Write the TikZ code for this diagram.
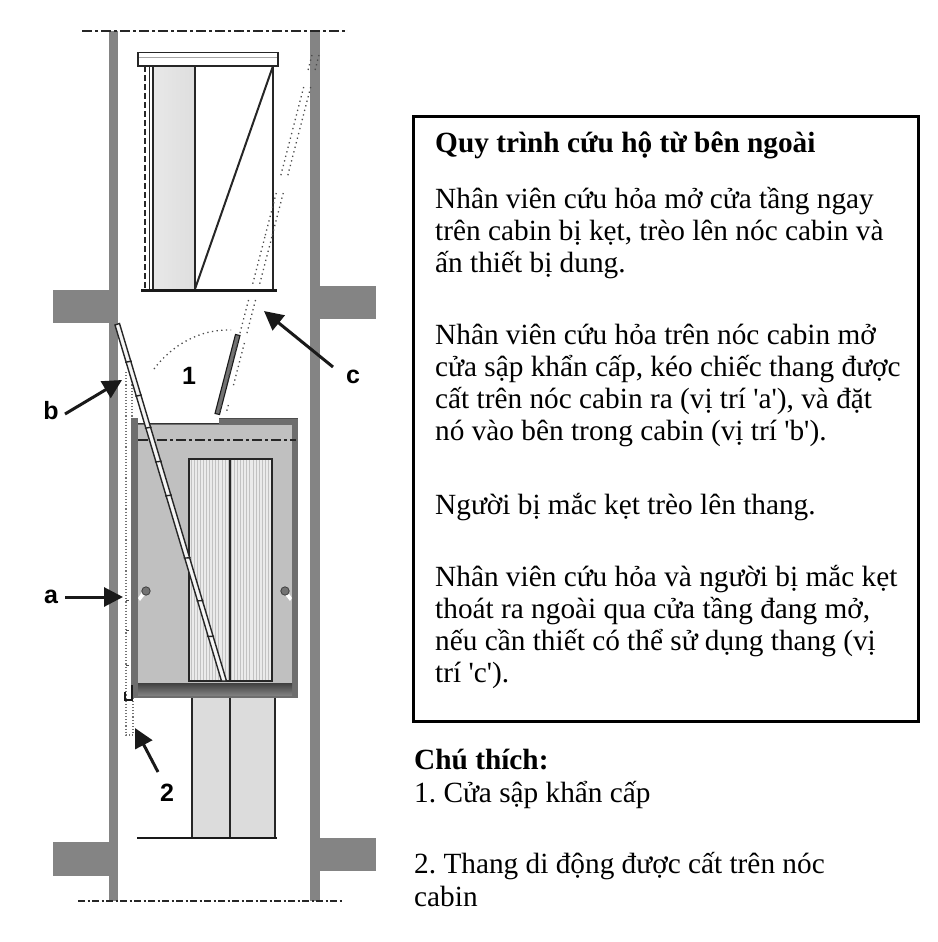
\documentclass[tikz,border=0pt]{standalone}
\usepackage{fontspec}
\setmainfont[Ligatures=TeXOff]{Liberation Serif}
\newfontfamily\lblfont{Liberation Sans}
\usetikzlibrary{arrows.meta}
\definecolor{wallc}{HTML}{848484}
\definecolor{framec}{HTML}{6E6E6E}
\definecolor{cabc}{HTML}{C0C0C0}
\definecolor{doorc}{HTML}{DCDCDC}
\tikzset{
  x=1pt,y=-1pt,
  wall/.style={fill=wallc,draw=none},
  txt/.style={anchor=base west,inner sep=0pt,font=\fontsize{29.3}{32}\selectfont},
  btxt/.style={anchor=base west,inner sep=0pt,font=\fontsize{29.3}{32}\selectfont\bfseries},
  lbl/.style={inner sep=0pt,font=\lblfont\bfseries\fontsize{25}{27}\selectfont},
  callout/.style={-{Triangle[length=19pt,width=19pt]},line width=3pt,black!90},
  cline/.style={black!85,line width=2pt},
  dots/.style={black!70,line width=1.3pt,dash pattern=on 1.3pt off 3.4pt},
  adots/.style={black!55,line width=1.1pt,dash pattern=on 1.1pt off 2pt},
  dashdot/.style={black!85,line width=2pt,dash pattern=on 10pt off 3pt on 3pt off 3pt},
  dashdotfine/.style={black!85,line width=2pt,dash pattern=on 7pt off 2.5pt on 2pt off 2.5pt},
}
\begin{document}
\begin{tikzpicture}
\useasboundingbox (0,0) rectangle (937,942);
\frenchspacing
% shaft walls and slabs
\fill[wall] (109,31) rectangle (118,901);
\fill[wall] (310,31) rectangle (320,901);
\fill[wall] (53,290) rectangle (109,323);
\fill[wall] (320,286) rectangle (376,319);
\fill[wall] (53,842) rectangle (109,876);
\fill[wall] (320,838) rectangle (376,871);
\draw[dashdot] (82,31) -- (345,31);
\draw[dashdotfine] (78,901) -- (342,901);
% upper door, open position
\shade[left color=black!9,right color=black!13] (153,66) rectangle (195,290);
\draw[cline,line width=1.4pt] (149.5,66) -- (149.5,290);
\draw[cline] (153,66) -- (153,290);
\draw[cline] (195,66) -- (195,290);
\draw[cline] (273,66) -- (273,290);
\draw[cline] (195,289) -- (273,66);
\draw[black!85,line width=1.6pt,dash pattern=on 6pt off 3pt] (145,66) -- (145,290);
\draw[fill=white,draw=black!85,line width=1.6pt] (138,52.5) rectangle (278,66);
\draw[black!35,line width=1pt] (139,58) -- (277,58);
\draw[black!90,line width=3pt] (141,290) -- (277,290);
% lower door
\fill[doorc] (192,698) rectangle (275,838);
\draw[cline] (192,698) -- (192,838);
\draw[cline] (229.5,698) -- (229.5,838);
\draw[cline] (275,698) -- (275,838);
\draw[black!90,line width=2.8pt] (137,838) -- (277,838);
% cabin
\fill[framec] (131,418) rectangle (298,698);
\fill[cabc] (138,425) rectangle (292,683);
\fill[white] (138,418) rectangle (219,422.5);
\draw[black!80,line width=1.6pt] (138,423.5) -- (219,423.5);
\fill[framec] (219,418) rectangle (298,425);
\draw[black!70,line width=1pt] (219,418) -- (298,418);
\shade[top color=black!75,bottom color=black!50] (138,683) rectangle (292,695);
\draw[dashdot] (138,440) -- (296,440);
% cabin doors
\fill[black!8] (189,459) rectangle (272,681);
\foreach \i in {0,...,25} \draw[black!24,line width=.9pt] (191+3.1*\i,460) -- (191+3.1*\i,680);
\draw[cline] (189,459) rectangle (272,681);
\draw[cline] (229.5,459) -- (229.5,681);
% knobs
\fill[white] (138,598) -- (144,589) -- (147,592) -- (140,601) -- cycle;
\draw[black!75,fill=black!55,line width=.8pt] (146,591) circle (4.2);
\fill[white] (292,598) -- (286,589) -- (283,592) -- (290,601) -- cycle;
\draw[black!75,fill=black!55,line width=.8pt] (285,591) circle (4.2);
% emergency hatch and its swing
\draw[fill=black!55,draw=black!90,line width=1.1pt] (215,413.5) -- (219.5,414.5) -- (240,335.5) -- (235.5,334.5) -- cycle;
\draw[dots] (154,369) .. controls (172,345) and (200,329) .. (231,330);
% ladder positions
\draw[adots] (126,372) -- (126,735) -- (133,735) -- (133,698);
\draw[adots] (132,372) -- (132,418);
\foreach \y in {600,630,665} \draw[black!70,line width=1pt] (126,\y) -- (129,\y);
\draw[black!90,line width=1.4pt] (132,685) -- (132,700) -- (125,700) -- (125,692);
\draw[fill=black!4,draw=black!85,line width=1.4pt] (115,325) -- (119.5,323.5) -- (226.5,681) -- (221.5,681) -- cycle;
\foreach \t in {.105,.2,.29,.385,.48,.655,.775,.875}
  \draw[black!85,line width=1.4pt] ({115+\t*106.5-1},{325+\t*356}) -- ({119.5+\t*107+1},{323.5+\t*357.5});
\foreach \a/\b in {405/414,343/388,300/335,237/287,193/237,133/177,87/130,55/70} {
  \draw[dots] ({219+(414-\a)*0.259},\a) -- ({219+(414-\b)*0.259},\b);
  \draw[dots] ({226+(414-\a)*0.259},\a) -- ({226+(414-\b)*0.259},\b);
}
% labels and callouts
\node[lbl] (nb) at (51,411) {b};
\node[lbl] (nc) at (353,377) {c};
\node[lbl] (na) at (51,597) {a};
\node[lbl] (n1) at (189,376) {1};
\node[lbl] (n2) at (167,793) {2};
\coordinate (tb) at (122,380);
\coordinate (tc) at (264,311);
\coordinate (ta) at (123,597);
\coordinate (t2) at (135,728);
\coordinate (fb) at (65,414);
\coordinate (fc) at (333,367);
\coordinate (fa) at (65,597);
\coordinate (f2) at (158,772);
\draw[callout] (fb) -- (tb);
\draw[callout] (fc) -- (tc);
\draw[callout] (fa) -- (ta);
\draw[callout] (f2) -- (t2);
% text box
\draw[black,line width=3pt] (413.5,116.5) rectangle (918.5,721);
\node[btxt] at (435,152) {Quy trình cứu hộ từ bên ngoài};
\node[txt] at (435,208) {Nhân viên cứu hỏa mở cửa tầng ngay};
\node[txt] at (435,240) {trên cabin bị kẹt, trèo lên nóc cabin và};
\node[txt] at (435,272) {ấn thiết bị dung.};
\node[txt] at (435,344) {Nhân viên cứu hỏa trên nóc cabin mở};
\node[txt] at (435,376) {cửa sập khẩn cấp, kéo chiếc thang được};
\node[txt] at (435,408) {cất trên nóc cabin ra (vị trí 'a'), và đặt};
\node[txt] at (435,440) {nó vào bên trong cabin (vị trí 'b').};
\node[txt] at (435,514) {Người bị mắc kẹt trèo lên thang.};
\node[txt] at (435,586) {Nhân viên cứu hỏa và người bị mắc kẹt};
\node[txt] at (435,618) {thoát ra ngoài qua cửa tầng đang mở,};
\node[txt] at (435,650) {nếu cần thiết có thể sử dụng thang (vị};
\node[txt] at (435,682) {trí 'c').};
\node[btxt] at (414,769) {Chú thích:};
\node[txt] at (414,802) {1. Cửa sập khẩn cấp};
\node[txt] at (414,873) {2. Thang di động được cất trên nóc};
\node[txt] at (414,906) {cabin};
\end{tikzpicture}
\end{document}
